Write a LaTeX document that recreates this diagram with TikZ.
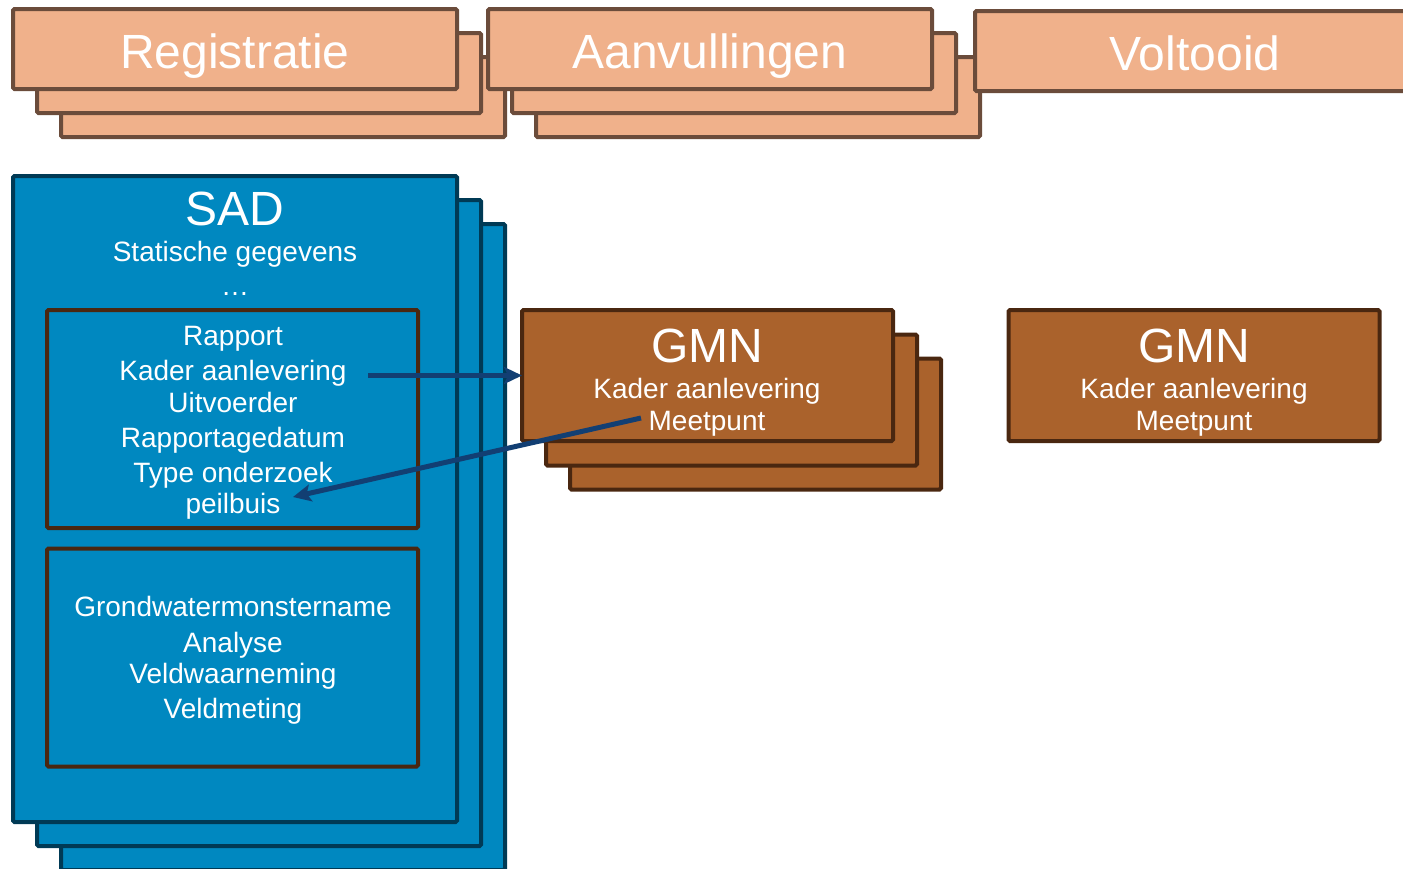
\documentclass[tikz,border=0pt]{standalone}
\usepackage{fontspec}
\setmainfont{Liberation Sans}
\usetikzlibrary{arrows.meta}
\definecolor{peach}{HTML}{F0B18B}
\definecolor{peachline}{HTML}{6B4C3B}
\definecolor{sadblue}{HTML}{0088C0}
\definecolor{sadline}{HTML}{003A55}
\definecolor{gmnbrown}{HTML}{AA622C}
\definecolor{brownline}{HTML}{4A2710}
\definecolor{arrowblue}{HTML}{123F73}
\begin{document}
\begin{tikzpicture}[x=1pt,y=-1pt,
  box/.style={line width=4pt, rounded corners=1.5pt, inner sep=0pt, outer sep=0pt},
  phase/.style={box, draw=peachline, fill=peach, minimum width=444pt, minimum height=80pt},
  sad/.style={box, draw=sadline, fill=sadblue, minimum width=444pt, minimum height=646pt},
  inner/.style={box, draw=brownline, fill=sadblue, minimum width=371pt, minimum height=218pt},
  gmn/.style={box, draw=brownline, fill=gmnbrown, minimum width=371pt, minimum height=131pt},
  big/.style={text=white, inner sep=0pt, anchor=base, font=\fontsize{48}{50}\selectfont},
  small/.style={text=white, inner sep=0pt, anchor=base, font=\fontsize{28}{30}\selectfont},
  link/.style={draw=arrowblue, line width=5pt, -{Stealth[length=18pt,width=17pt,inset=4pt]}}
]
\useasboundingbox (0,0) rectangle (1403,868);
% phase stacks
\node[phase] (reg3) at (283,97) {};
\node[phase] (reg2) at (259,73) {};
\node[phase] (reg1) at (235,49) {};
\node[phase] (aan3) at (758,97) {};
\node[phase] (aan2) at (734,73) {};
\node[phase] (aan1) at (710,49) {};
\node[phase, minimum width=460pt, anchor=west] (vol) at (975,51) {};
\node[big] (tReg) at (235,68) {Registratie};
\node[big] (tAan) at (710,68) {Aanvullingen};
\node[big] (tVol) at (1195,70) {Voltooid};
% SAD stack
\node[sad] (sad3) at (283,547) {};
\node[sad] (sad2) at (259,523) {};
\node[sad] (sad1) at (235,499) {};
\node[big] (tSad) at (235,225) {SAD};
\node[small] (tStat) at (235,261) {Statische gegevens};
\node[small] (tDots) at (235,295) {\dots};
% inner boxes
\node[inner] (in1) at (232.5,419) {};
\node[inner] (in2) at (232.5,657.5) {};
\node[small] (tRap) at (233,345) {Rapport};
\node[small] (tKad) at (233,380) {Kader aanlevering};
\node[small] (tUit) at (233,412) {Uitvoerder};
\node[small] (tDat) at (233,447) {Rapportagedatum};
\node[small] (tTyp) at (233,482) {Type onderzoek};
\node[small] (tPei) at (233,513) {peilbuis};
\node[small] (tGro) at (233,616) {Grondwatermonstername};
\node[small] (tAna) at (233,652) {Analyse};
\node[small] (tVwn) at (233,683) {Veldwaarneming};
\node[small] (tVme) at (233,718) {Veldmeting};
% GMN stack
\node[gmn] (gmn3) at (755.5,424) {};
\node[gmn] (gmn2) at (731.5,400) {};
\node[gmn] (gmn1) at (707.5,375.5) {};
\node[big] (tGmn) at (707,362) {GMN};
\node[small] (tGk) at (707,398) {Kader aanlevering};
\node[small] (tGm) at (707,430) {Meetpunt};
% GMN right
\node[gmn] (gmnR) at (1194,375.5) {};
\node[big] (tGmnR) at (1194,362) {GMN};
\node[small] (tGkR) at (1194,398) {Kader aanlevering};
\node[small] (tGmR) at (1194,430) {Meetpunt};
% connectors
\coordinate (a1s) at (368,375.5);
\coordinate (a2s) at (641,418);
\coordinate (a2e) at (293,497);
\draw[link] (a1s) -- (gmn1.west);
\draw[link] (a2s) -- (a2e);
\end{tikzpicture}
\end{document}
